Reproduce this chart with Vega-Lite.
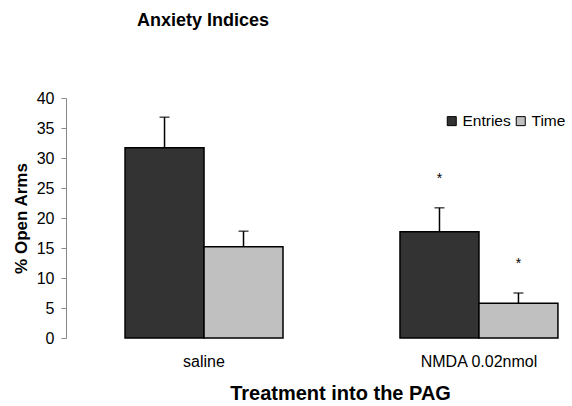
{
  "$schema": "https://vega.github.io/schema/vega-lite/v6.json",
  "autosize": "none",
  "width": 500,
  "height": 240,
  "padding": {"left": 66, "top": 98, "right": 6, "bottom": 68},
  "background": "white",
  "config": {"font": "Liberation Sans", "view": {"stroke": null},
    "axisY": {"values": [0, 5, 10, 15, 20, 25, 30, 35, 40], "labelOverlap": false, "grid": false, "domainColor": "#888888", "tickColor": "#888888", "tickSize": 5, "labelPadding": 7, "labelFontSize": 16, "labelColor": "black", "titleFontSize": 17, "titleFontWeight": "bold", "titleColor": "black", "titlePadding": 6}},
  "title": {"text": "Anxiety Indices", "anchor": "start", "frame": "group", "dx": 71, "offset": 37, "baseline": "alphabetic", "fontSize": 18, "fontWeight": "bold", "color": "black"},
  "data": {"values": [
    {"treatment": "saline", "measure": "Entries", "mean": 31.7, "upper": 36.8, "sig": ""},
    {"treatment": "saline", "measure": "Time", "mean": 15.2, "upper": 17.8, "sig": ""},
    {"treatment": "NMDA 0.02nmol", "measure": "Entries", "mean": 17.7, "upper": 21.7, "sig": "*"},
    {"treatment": "NMDA 0.02nmol", "measure": "Time", "mean": 5.8, "upper": 7.5, "sig": "*"}
  ]},
  "encoding": {
    "x": {"field": "treatment", "type": "nominal", "sort": ["saline", "NMDA 0.02nmol"],
      "scale": {"paddingInner": 0.4255, "paddingOuter": 0.122, "align": 0.88},
      "axis": {"title": "Treatment into the PAG", "labelAngle": 0, "domain": false, "ticks": false, "labelPadding": 15, "labelFontSize": 16, "labelColor": "black", "titleFontSize": 20, "titleFontWeight": "bold", "titleColor": "black", "titlePadding": 14, "titleX": 274, "titleAlign": "center"}},
    "xOffset": {"field": "measure", "type": "nominal", "sort": ["Entries", "Time"], "scale": {"paddingInner": 0, "paddingOuter": 0}}
  },
  "layer": [
    {
      "mark": {"type": "bar", "stroke": "black", "strokeWidth": 1.5},
      "encoding": {
        "y": {"field": "mean", "type": "quantitative", "scale": {"domain": [0, 40]},
          "axis": {"title": "% Open Arms", "values": [0, 5, 10, 15, 20, 25, 30, 35, 40]}},
        "color": {"field": "measure", "type": "nominal", "sort": ["Entries", "Time"],
          "scale": {"domain": ["Entries", "Time"], "range": ["#333333", "#c0c0c0"]},
          "legend": {"title": null, "orient": "none", "legendX": 378, "legendY": 15, "direction": "horizontal", "symbolType": "square", "symbolSize": 81, "symbolStrokeColor": "black", "symbolStrokeWidth": 1, "labelFontSize": 15.5, "labelColor": "black", "columnPadding": 2, "labelOffset": 3}}
      }
    },
    {
      "mark": {"type": "rule", "color": "black", "strokeWidth": 1.5},
      "encoding": {
        "y": {"field": "mean", "type": "quantitative", "axis": {"title": "% Open Arms", "values": [0, 5, 10, 15, 20, 25, 30, 35, 40]}},
        "y2": {"field": "upper"}
      }
    },
    {
      "mark": {"type": "tick", "color": "black", "size": 10, "thickness": 1.5, "orient": "horizontal"},
      "encoding": {
        "y": {"field": "upper", "type": "quantitative", "axis": {"title": "% Open Arms", "values": [0, 5, 10, 15, 20, 25, 30, 35, 40]}}
      }
    },
    {
      "mark": {"type": "text", "dy": -29, "fontSize": 14, "color": "black"},
      "encoding": {
        "y": {"field": "upper", "type": "quantitative", "axis": {"title": "% Open Arms", "values": [0, 5, 10, 15, 20, 25, 30, 35, 40]}},
        "text": {"field": "sig"}
      }
    }
  ]
}
